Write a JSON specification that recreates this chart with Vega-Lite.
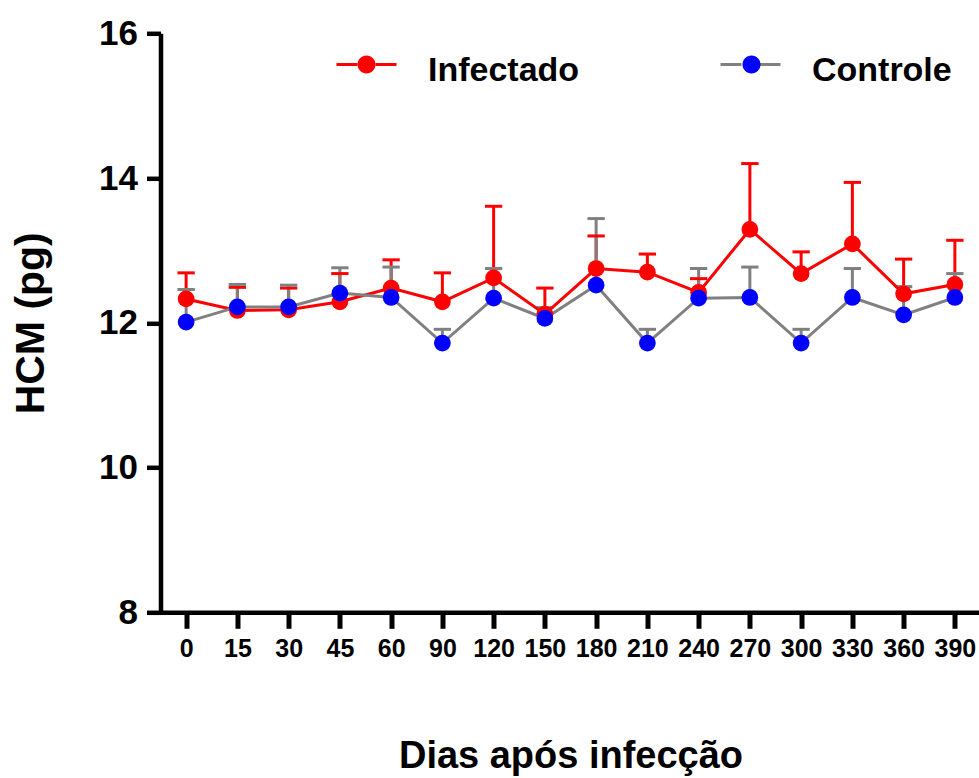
{
  "$schema": "https://vega.github.io/schema/vega-lite/v6.json",
  "width": 820,
  "height": 579,
  "autosize": {"type": "none"},
  "padding": {"left": 160.5, "top": 33.3, "right": 0, "bottom": 166},
  "background": "white",
  "config": {"view": {"stroke": null}, "font": "Liberation Sans"},
  "data": {
    "values": [
      {"dia": "0", "grupo": "Infectado", "hcm": 12.33, "sup": 12.69},
      {"dia": "15", "grupo": "Infectado", "hcm": 12.17, "sup": 12.49},
      {"dia": "30", "grupo": "Infectado", "hcm": 12.18, "sup": 12.48},
      {"dia": "45", "grupo": "Infectado", "hcm": 12.29, "sup": 12.68},
      {"dia": "60", "grupo": "Infectado", "hcm": 12.48, "sup": 12.87},
      {"dia": "90", "grupo": "Infectado", "hcm": 12.29, "sup": 12.69},
      {"dia": "120", "grupo": "Infectado", "hcm": 12.62, "sup": 13.61},
      {"dia": "150", "grupo": "Infectado", "hcm": 12.12, "sup": 12.48},
      {"dia": "180", "grupo": "Infectado", "hcm": 12.75, "sup": 13.20},
      {"dia": "210", "grupo": "Infectado", "hcm": 12.70, "sup": 12.95},
      {"dia": "240", "grupo": "Infectado", "hcm": 12.42, "sup": 12.61},
      {"dia": "270", "grupo": "Infectado", "hcm": 13.29, "sup": 14.20},
      {"dia": "300", "grupo": "Infectado", "hcm": 12.68, "sup": 12.98},
      {"dia": "330", "grupo": "Infectado", "hcm": 13.09, "sup": 13.94},
      {"dia": "360", "grupo": "Infectado", "hcm": 12.40, "sup": 12.88},
      {"dia": "390", "grupo": "Infectado", "hcm": 12.53, "sup": 13.14},
      {"dia": "0", "grupo": "Controle", "hcm": 12.01, "sup": 12.46},
      {"dia": "15", "grupo": "Controle", "hcm": 12.22, "sup": 12.53},
      {"dia": "30", "grupo": "Controle", "hcm": 12.22, "sup": 12.52},
      {"dia": "45", "grupo": "Controle", "hcm": 12.41, "sup": 12.76},
      {"dia": "60", "grupo": "Controle", "hcm": 12.35, "sup": 12.77},
      {"dia": "90", "grupo": "Controle", "hcm": 11.72, "sup": 11.91},
      {"dia": "120", "grupo": "Controle", "hcm": 12.34, "sup": 12.75},
      {"dia": "150", "grupo": "Controle", "hcm": 12.06, "sup": 12.21},
      {"dia": "180", "grupo": "Controle", "hcm": 12.52, "sup": 13.44},
      {"dia": "210", "grupo": "Controle", "hcm": 11.72, "sup": 11.91},
      {"dia": "240", "grupo": "Controle", "hcm": 12.34, "sup": 12.75},
      {"dia": "270", "grupo": "Controle", "hcm": 12.35, "sup": 12.77},
      {"dia": "300", "grupo": "Controle", "hcm": 11.72, "sup": 11.91},
      {"dia": "330", "grupo": "Controle", "hcm": 12.35, "sup": 12.75},
      {"dia": "360", "grupo": "Controle", "hcm": 12.11, "sup": 12.50},
      {"dia": "390", "grupo": "Controle", "hcm": 12.35, "sup": 12.68}
    ]
  },
  "encoding": {
    "x": {
      "field": "dia",
      "type": "ordinal",
      "sort": ["0", "15", "30", "45", "60", "90", "120", "150", "180", "210", "240", "270", "300", "330", "360", "390"],
      "scale": {"type": "point", "padding": 0.5},
      "axis": {
        "title": "Dias após infecção",
        "labelAngle": 0,
        "domainColor": "black",
        "domainWidth": 4.5,
        "tickColor": "black",
        "tickWidth": 5,
        "tickSize": 16,
        "labelFont": "Liberation Sans",
        "labelFontWeight": "bold",
        "labelFontSize": 25,
        "labelColor": "black",
        "labelPadding": 8,
        "titleFont": "Liberation Sans",
        "titleFontSize": 38,
        "titleFontWeight": "bold",
        "titleColor": "black",
        "titleBaseline": "alphabetic",
        "titleAlign": "center",
        "titleX": 410,
        "titleY": 155,
        "grid": false
      }
    }
  },
  "layer": [
    {
      "mark": {"type": "rule", "strokeWidth": 3},
      "encoding": {
        "y": {
          "field": "hcm",
          "type": "quantitative",
          "scale": {"domain": [8, 16], "nice": false, "zero": false},
          "axis": {
            "values": [8, 10, 12, 14, 16],
            "format": "d",
            "title": "HCM (pg)",
            "grid": false,
            "domainColor": "black",
            "domainWidth": 4.5,
            "tickColor": "black",
            "tickWidth": 4.5,
            "tickSize": 14,
            "labelFont": "Liberation Sans",
            "labelFontWeight": "bold",
            "labelFontSize": 35,
            "labelColor": "black",
            "labelPadding": 9,
            "titleFont": "Liberation Sans",
            "titleFontSize": 41,
            "titleFontWeight": "bold",
            "titleColor": "black",
            "titleAngle": -90,
            "titleBaseline": "alphabetic",
            "titleAlign": "center",
            "titleX": -117,
            "titleY": 289.5
          }
        },
        "y2": {"field": "sup"},
        "color": {
          "field": "grupo",
          "type": "nominal",
          "scale": {"domain": ["Infectado", "Controle"], "range": ["#ff0000", "#808080"]},
          "legend": {
            "orient": "none",
            "legendX": 174.5,
            "legendY": 6,
            "direction": "horizontal",
            "title": null,
            "padding": 0,
            "symbolType": "M-1,-0.22L-0.3,-0.22M0.3,-0.22L1,-0.22",
            "symbolSize": 3600,
            "symbolStrokeWidth": 3,
            "symbolOpacity": 1,
            "labelFont": "Liberation Sans",
            "labelFontWeight": "bold",
            "labelFontSize": 34,
            "labelColor": "black",
            "labelOffset": 30,
            "columnPadding": 134
          }
        }
      }
    },
    {
      "mark": {"type": "point", "shape": "M-1,0L1,0", "size": 300, "filled": false, "strokeWidth": 3, "opacity": 1},
      "encoding": {
        "y": {"field": "sup", "type": "quantitative"},
        "color": {
          "field": "grupo",
          "type": "nominal",
          "legend": {
            "orient": "none",
            "legendX": 174.5,
            "legendY": 6,
            "direction": "horizontal",
            "title": null,
            "padding": 0,
            "symbolType": "M-1,-0.22L-0.3,-0.22M0.3,-0.22L1,-0.22",
            "symbolSize": 3600,
            "symbolStrokeWidth": 3,
            "symbolOpacity": 1,
            "labelFont": "Liberation Sans",
            "labelFontWeight": "bold",
            "labelFontSize": 34,
            "labelColor": "black",
            "labelOffset": 30,
            "columnPadding": 134
          }
        }
      }
    },
    {
      "mark": {"type": "line", "strokeWidth": 3},
      "encoding": {
        "y": {"field": "hcm", "type": "quantitative"},
        "color": {
          "field": "grupo",
          "type": "nominal",
          "legend": {
            "orient": "none",
            "legendX": 174.5,
            "legendY": 6,
            "direction": "horizontal",
            "title": null,
            "padding": 0,
            "symbolType": "M-1,-0.22L-0.3,-0.22M0.3,-0.22L1,-0.22",
            "symbolSize": 3600,
            "symbolStrokeWidth": 3,
            "symbolOpacity": 1,
            "labelFont": "Liberation Sans",
            "labelFontWeight": "bold",
            "labelFontSize": 34,
            "labelColor": "black",
            "labelOffset": 30,
            "columnPadding": 134
          }
        }
      }
    },
    {
      "mark": {"type": "point", "filled": true, "size": 280, "opacity": 1},
      "encoding": {
        "y": {"field": "hcm", "type": "quantitative"},
        "fill": {
          "field": "grupo",
          "type": "nominal",
          "sort": ["Infectado", "Controle"],
          "scale": {"range": ["#ff0000", "#0000ff"]},
          "legend": {
            "orient": "none",
            "legendX": 174.5,
            "legendY": 6,
            "direction": "horizontal",
            "title": null,
            "padding": 0,
            "symbolType": "M-0.3,-0.22A0.3,0.3 0 1,1 0.3,-0.22A0.3,0.3 0 1,1 -0.3,-0.22Z",
            "symbolSize": 3600,
            "symbolStrokeWidth": 3,
            "symbolStrokeColor": "transparent",
            "symbolOpacity": 1,
            "labelExpr": "''",
            "labelFontSize": 34,
            "labelOffset": 0,
            "columnPadding": 322
          }
        }
      }
    }
  ]
}
